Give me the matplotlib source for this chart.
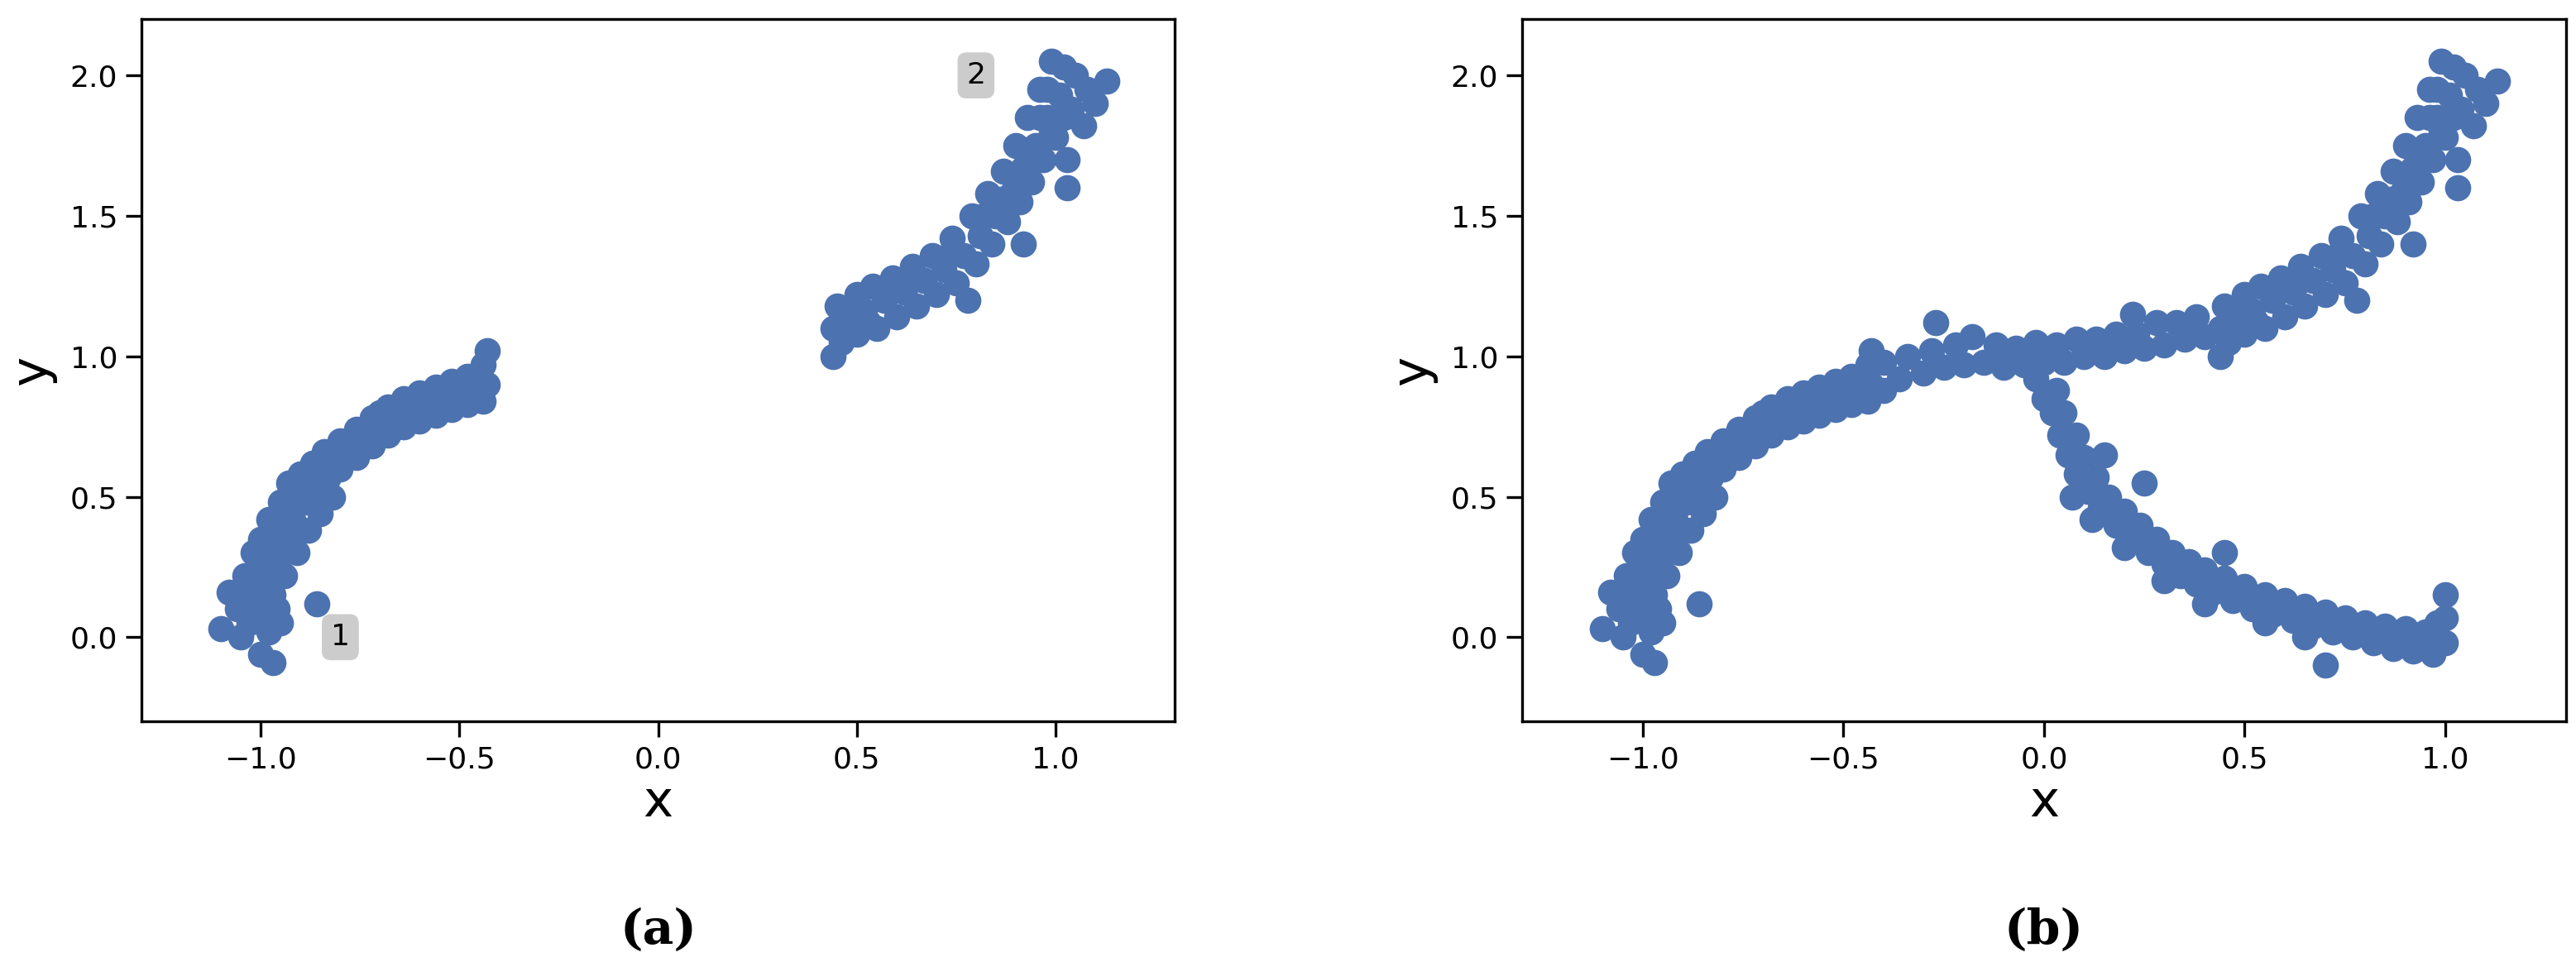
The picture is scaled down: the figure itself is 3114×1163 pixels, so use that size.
import matplotlib.pyplot as plt
import numpy as np

# hand-read points of each branch (x, y)
left_branch = [(-1.10,0.03),(-1.08,0.16),(-1.06,0.10),(-1.05,0.00),(-1.04,0.22),(-1.03,0.05),(-1.02,0.30),(-1.01,0.12),(-1.00,-0.06),(-1.00,0.35),(-0.99,0.20),(-0.98,0.02),(-0.98,0.42),(-0.97,0.28),(-0.96,0.10),(-0.95,0.48),(-0.95,0.36),(-0.94,0.22),(-0.93,0.55),(-0.92,0.42),(-0.91,0.30),(-0.90,0.58),(-0.89,0.48),(-0.88,0.38),(-0.87,0.62),(-0.86,0.52),(-0.85,0.44),(-0.84,0.66),(-0.83,0.57),(-0.82,0.50),(-0.80,0.70),(-0.80,0.60),(-0.78,0.66),(-0.76,0.74),(-0.76,0.64),(-0.74,0.70),(-0.72,0.78),(-0.72,0.68),(-0.70,0.74),(-0.68,0.82),(-0.68,0.72),(-0.66,0.77),(-0.64,0.85),(-0.64,0.75),(-0.62,0.80),(-0.60,0.87),(-0.60,0.77),(-0.58,0.82),(-0.56,0.89),(-0.56,0.79),(-0.54,0.84),(-0.52,0.91),(-0.52,0.81),(-0.50,0.86),(-0.48,0.93),(-0.48,0.83),(-0.46,0.88),(-0.44,0.97),(-0.44,0.84),(-0.43,1.02),(-0.43,0.90),(-0.86,0.12),(-0.95,0.05),(-0.97,-0.09),(-1.02,0.18),(-0.97,0.15),(-0.92,0.35),(-0.99,0.27),(-1.03,0.14),(-0.96,0.40),(-0.90,0.50),(-0.86,0.58),(-0.81,0.65),(-0.70,0.80),(-0.62,0.84),(-0.53,0.87),(-0.46,0.93),(-1.01,0.07),(-0.94,0.30)]

right_branch = [(0.44,1.00),(0.44,1.10),(0.45,1.18),(0.46,1.05),(0.48,1.14),(0.50,1.22),(0.50,1.08),(0.52,1.16),(0.54,1.25),(0.55,1.10),(0.57,1.20),(0.59,1.28),(0.60,1.14),(0.62,1.23),(0.64,1.32),(0.65,1.18),(0.67,1.27),(0.69,1.36),(0.70,1.22),(0.72,1.31),(0.74,1.42),(0.75,1.26),(0.77,1.36),(0.79,1.50),(0.80,1.33),(0.81,1.43),(0.83,1.58),(0.84,1.40),(0.85,1.50),(0.87,1.66),(0.88,1.48),(0.89,1.58),(0.90,1.75),(0.91,1.55),(0.92,1.67),(0.93,1.85),(0.94,1.62),(0.95,1.75),(0.96,1.95),(0.97,1.70),(0.98,1.85),(0.99,2.05),(1.00,1.78),(1.01,1.93),(1.02,2.03),(1.03,1.70),(1.04,1.88),(1.05,2.00),(1.07,1.82),(1.08,1.95),(1.10,1.90),(1.13,1.98),(0.78,1.20),(0.92,1.40),(1.03,1.60),(0.96,1.85),(0.93,1.72),(0.98,1.95),(0.53,1.12),(0.63,1.26),(0.73,1.36),(0.82,1.50),(0.86,1.56),(0.90,1.64),(0.99,1.80),(1.02,1.85)]

middle_branch = [(-0.40,0.88),(-0.40,0.98),(-0.36,0.92),(-0.34,1.00),(-0.30,0.94),(-0.28,1.02),(-0.25,0.96),(-0.22,1.04),(-0.20,0.97),(-0.18,1.07),(-0.15,0.98),(-0.12,1.04),(-0.10,0.96),(-0.07,1.03),(-0.05,0.97),(-0.02,1.05),(0.00,0.98),(0.03,1.04),(0.05,0.98),(0.08,1.06),(0.10,1.00),(0.13,1.06),(0.15,1.00),(0.18,1.08),(0.20,1.02),(0.23,1.08),(0.25,1.03),(0.28,1.12),(0.30,1.04),(0.33,1.12),(0.35,1.06),(0.38,1.14),(0.40,1.07),(-0.27,1.12),(0.22,1.15)]

down_branch = [(-0.02,0.92),(0.00,0.85),(0.02,0.80),(0.03,0.88),(0.04,0.72),(0.05,0.80),(0.06,0.65),(0.08,0.72),(0.08,0.58),(0.10,0.64),(0.11,0.52),(0.13,0.57),(0.14,0.46),(0.16,0.50),(0.18,0.40),(0.20,0.45),(0.22,0.35),(0.24,0.40),(0.26,0.30),(0.28,0.35),(0.30,0.26),(0.32,0.30),(0.34,0.22),(0.36,0.27),(0.38,0.19),(0.40,0.24),(0.42,0.16),(0.45,0.21),(0.47,0.13),(0.50,0.18),(0.52,0.10),(0.55,0.15),(0.57,0.08),(0.60,0.13),(0.62,0.06),(0.65,0.11),(0.67,0.04),(0.70,0.09),(0.72,0.02),(0.75,0.07),(0.77,0.00),(0.80,0.05),(0.82,-0.02),(0.85,0.04),(0.87,-0.04),(0.90,0.03),(0.92,-0.05),(0.95,0.02),(0.97,-0.06),(0.98,0.05),(1.00,-0.02),(1.00,0.07),(1.00,0.15),(0.25,0.55),(0.15,0.65),(0.45,0.30),(0.70,-0.10),(0.07,0.50),(0.12,0.42),(0.20,0.32),(0.30,0.20),(0.40,0.12),(0.55,0.05),(0.65,0.00)]

panel_a = left_branch + right_branch
panel_b = left_branch + middle_branch + down_branch + right_branch
panel_letters = ["(a)", "(b)"]
cluster_labels = [("1", -0.8, 0.0), ("2", 0.8, 2.0)]

color = "#4c72b0"
fig = plt.figure(figsize=(15.57, 5.815), dpi=200)
ax_a = fig.add_axes([0.055, 0.25, 0.401, 0.73])
ax_b = fig.add_axes([0.591, 0.25, 0.405, 0.73])

for ax, pts, letter in [(ax_a, panel_a, panel_letters[0]), (ax_b, panel_b, panel_letters[1])]:
    pts = np.array(pts)
    ax.scatter(pts[:, 0], pts[:, 1], s=130, color=color, linewidths=0, zorder=2)
    ax.set_xlim(-1.3, 1.3)
    ax.set_ylim(-0.3, 2.2)
    ax.set_xticks([-1.0, -0.5, 0.0, 0.5, 1.0])
    ax.set_yticks([0.0, 0.5, 1.0, 1.5, 2.0])
    ax.tick_params(direction="out", length=7, width=1.2, labelsize=13)
    for sp in ax.spines.values():
        sp.set_linewidth(1.2)
    ax.set_xlabel("x", fontsize=22, labelpad=2)
    ax.set_ylabel("y", fontsize=22, labelpad=6)
    ax.text(0.5, -0.265, letter, transform=ax.transAxes, ha="center", va="top",
            fontsize=21, family="DejaVu Serif", fontweight="bold")

for txt, x, y in cluster_labels:
    ax_a.text(x, y, txt, ha="center", va="center", fontsize=13, zorder=3,
              bbox=dict(boxstyle="round,pad=0.3", fc="#cccccc", ec="none"))

fig.savefig("out.png", dpi=200)
